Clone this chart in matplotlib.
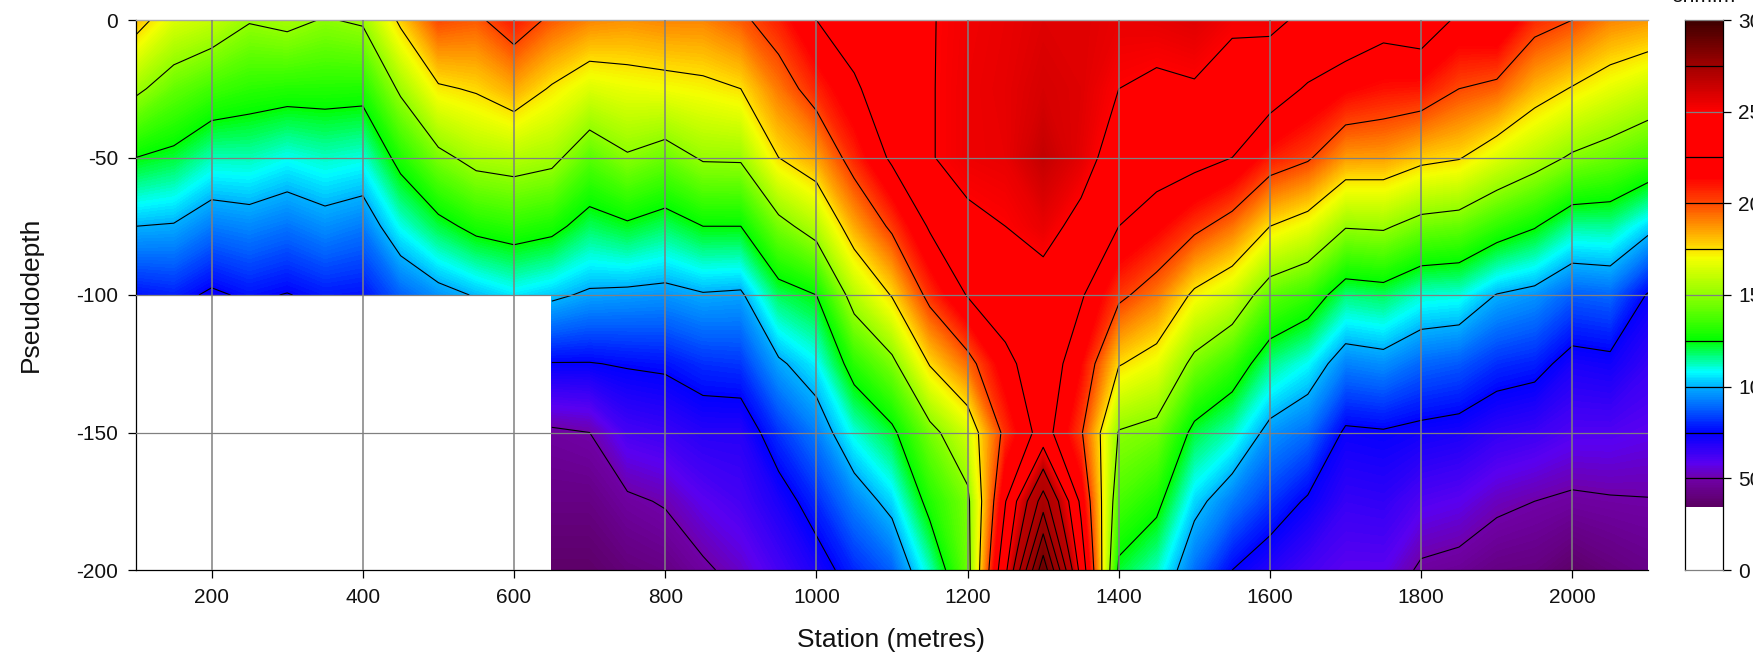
import matplotlib
matplotlib.use('Agg')
import matplotlib.pyplot as plt
from matplotlib.colors import LinearSegmentedColormap, Normalize
import numpy as np

plt.rcParams['font.family'] = ['Liberation Sans', 'DejaVu Sans']
plt.rcParams['axes.unicode_minus'] = False

nan = np.nan

stations = list(range(100, 2101, 50))
depths = [0, -25, -50, -75, -100, -125, -150, -175, -200]

row_0 = [181, 165, 160, 151, 154, 149, 152, 178, 200, 197, 209, 197, 190, 188, 190, 190, 197, 208, 225, 235, 240,
         249, 255, 258, 262, 262, 258, 259, 262, 254, 255, 245, 240, 232, 236, 222, 225, 206, 200, 190, 187]
row_25 = [153, 142, 135.6, 132, 130.6, 130.5, 130, 152.6, 173, 176.5, 184, 173.5, 165, 168, 169.5, 171.5, 175, 192, 207, 222, 238,
          249, 256, 259, 265, 262, 250, 246, 248, 239, 234, 223, 215, 211, 210, 200, 196, 182, 174, 167, 161]
row_50 = [125, 121.5, 112.7, 113, 109, 112, 110, 130, 146, 155, 157, 154, 140, 148.5, 143, 151.6, 152, 175, 185, 207, 228,
          249, 256, 258, 272, 260, 237.5, 234, 231, 225, 209, 202, 186.5, 186, 179, 176, 165.5, 157, 148, 143, 137]
row_75 = [100, 99, 92, 94, 91, 95, 92, 109, 120.6, 129, 132, 129, 119, 123, 118.5, 125, 125, 145, 157, 184, 203,
          227, 246, 250, 258, 243, 225, 216, 204, 193, 175, 167.5, 151, 152, 144, 142, 133, 126, 114.5, 115, 104]
row_100 = [77, 79, 73, 77, 74.5, 78, 77, 88, 95.5, 101, 106, 102.5, 98, 97, 96, 99, 98, 119, 125, 157, 176,
           205, 226, 236, 240, 227, 203.5, 192, 172, 162, 141, 134, 117, 119, 111, 110, 99.5, 96, 87.5, 89, 74]
row_125 = [nan, nan, nan, nan, nan, nan, nan, nan, nan, nan, nan, 74.5, 74.5, 76, 77, 81, 82, 98, 107, 131.6, 146,
           176, 194, 220, 237, 214, 176, 168, 145.5, 134, 116, 108, 93, 95, 89, 87, 81, 79, 70.6, 72, 65]
row_150 = [nan, nan, nan, nan, nan, nan, nan, nan, nan, nan, nan, 48, 50, 62, 64, 68, 68, 81.5, 92.5, 110, 122,
           145, 163, 205, 233, 202, 149, 145, 121, 112, 96, 90, 73, 74, 72, 70.5, 66, 64, 60, 60, 58]
row_175 = [nan, nan, nan, nan, nan, nan, nan, nan, nan, nan, nan, 42, 42, 48, 51, 58, 62, 70, 80, 93, 104,
           130, 146, 224, 312, 220, 137, 129, 104, 92, 82, 73.5, 65, 66, 60, 58, 52.5, 50, 48, 49, 49.5]
row_200 = [nan, nan, nan, nan, nan, nan, nan, nan, nan, nan, nan, 36, 36, 40, 42, 48, 54, 62, 70, 80, 88,
           112, 143, 244, 392, 240, 122, 112, 90, 75, 68, 62, 58, 58, 48, 46, 42, 41, 36, 40, 43]

x_ticks = [200, 400, 600, 800, 1000, 1200, 1400, 1600, 1800, 2000]
y_ticks = [0, -50, -100, -150, -200]
scale_ticks = [0, 50, 100, 150, 200, 250, 300]
line_levels = list(range(50, 401, 25))

# colour scale as seen on the bar at the right
low_stops = [(35, '#5c0064'), (50, '#7000a8'), (58, '#5a00f0'), (75, '#0000ff'), (88, '#0060ff'),
             (100, '#00b0ff'), (108, '#00ffff'), (125, '#00ff00'), (150, '#90ff00'), (170, '#f4ff00'),
             (176, '#ffdc00'), (200, '#ff4800'), (214, '#ff0000'), (250, '#ff0000')]
bar_stops = low_stops + [(275, '#a00000'), (300, '#3c0000')]
# the section itself stays lighter in its dark reds than the bar does
field_stops = low_stops + [(275, '#bc0000'), (300, '#b00000'), (325, '#a00000'), (350, '#900000'),
                           (375, '#780000'), (400, '#600000')]


def make_cmap(stops):
    lo, hi = stops[0][0], stops[-1][0]
    return LinearSegmentedColormap.from_list('res', [((v - lo) / (hi - lo), c) for v, c in stops], N=1024), Normalize(lo, hi)


W, H = 1753, 656
fig = plt.figure(figsize=(W / 100, H / 100), dpi=100)
ax = fig.add_axes([136 / W, 1 - 570 / H, 1512 / W, 550 / H])
cax = fig.add_axes([1685 / W, 1 - 570 / H, 38 / W, 550 / H])

grid = np.array([row_0, row_25, row_50, row_75, row_100, row_125, row_150, row_175, row_200])
field_cmap, field_norm = make_cmap(field_stops)
ax.contourf(stations, depths, grid, levels=np.arange(35, 401, 1.0), cmap=field_cmap, norm=field_norm, corner_mask=False)
ax.contour(stations, depths, grid, levels=line_levels, colors='black', linewidths=0.8, corner_mask=False)

ax.set_xlim(100, 2100)
ax.set_ylim(-200, 0)
ax.set_xticks(x_ticks)
ax.set_yticks(y_ticks)
ax.tick_params(axis='both', labelsize=15, length=5.8, width=0.9, pad=7, color='black', labelcolor='#111111')
for xt in x_ticks:
    ax.axvline(xt, color='#808080', lw=1.1, zorder=5)
for yt in y_ticks[1:-1]:
    ax.axhline(yt, color='#808080', lw=0.9, zorder=5)
ax.spines['right'].set_visible(False)
ax.spines['top'].set_color('#a8a8a8')
ax.spines['top'].set_linewidth(1.0)
ax.spines['left'].set_linewidth(0.9)
ax.spines['bottom'].set_linewidth(0.9)

# colour bar, drawn as a narrow section of its own, white below the lowest value
bar_cmap, bar_norm = make_cmap(bar_stops)
bar_vals = np.arange(35, 300.5, 1.0)
cax.pcolormesh([0, 1], np.append(bar_vals, 301) - 0.5, bar_vals[:, None], cmap=bar_cmap, norm=bar_norm)
for lv in line_levels:
    if lv < 300:
        cax.axhline(lv, color='#808080' if lv in (150, 250) else 'black', lw=0.9)
cax.set_xlim(0, 1)
cax.set_ylim(0, 300)
cax.set_xticks([])
cax.yaxis.tick_right()
cax.set_yticks(scale_ticks)
cax.tick_params(axis='y', labelsize=15, length=5.8, width=0.9, pad=5, labelcolor='#111111')
for s in cax.spines.values():
    s.set_linewidth(0.9)
cax.spines['top'].set_color('#808080')
cax.spines['bottom'].set_color('#808080')

fig.text(31 / W, 1 - 294 / H, 'Pseudodepth', rotation=90, ha='center', va='center', fontsize=19, color='#111111')
fig.text(891 / W, 1 - 640 / H, 'Station (metres)', ha='center', va='center', fontsize=19, color='#111111')
fig.text(1703 / W, 1 - 2 / H, 'ohm.m', ha='center', va='baseline', fontsize=15, color='#111111')

fig.savefig('out.png', dpi=100)
